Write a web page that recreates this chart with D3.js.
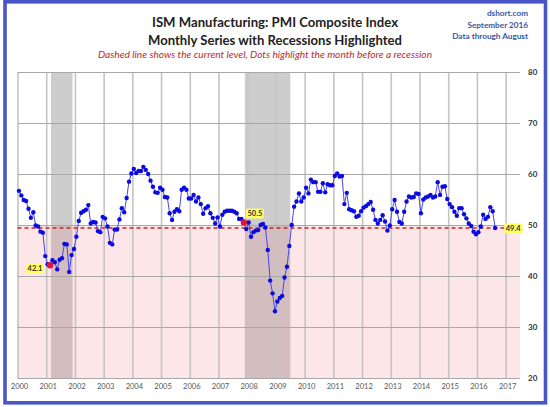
<!DOCTYPE html>
<html>
<head>
<meta charset="utf-8">
<script src="https://cdn.jsdelivr.net/npm/d3@7"></script>
<style>
  html, body { margin: 0; padding: 0; background: #fff; }
  svg { display: block; }
</style>
</head>
<body>
<svg id="chart" width="550" height="407"></svg>
<script>
// ---------------- DATA ----------------
const yearLabels = ['2000','2001','2002','2003','2004','2005','2006','2007','2008','2009','2010','2011','2012','2013','2014','2015','2016','2017'];
const yTicks = [20, 30, 40, 50, 60, 70, 80];

const pmi2000 = [56.7, 55.8, 54.9, 54.7, 53.2, 51.4, 52.5, 49.9, 49.7, 48.7, 48.5, 43.9];
const pmi2001 = [42.3, 42.1, 43.1, 42.7, 41.3, 43.2, 43.5, 46.3, 46.2, 40.8, 44.1, 45.3];
const pmi2002 = [47.7, 50.8, 52.4, 52.7, 53.0, 53.9, 50.3, 50.6, 50.5, 48.8, 48.6, 51.6];
const pmi2003 = [51.3, 49.7, 46.5, 46.2, 49.1, 49.1, 51.1, 53.3, 52.5, 55.3, 58.5, 60.1];
const pmi2004 = [61.0, 60.2, 60.6, 60.6, 61.4, 60.8, 60.0, 58.7, 57.5, 56.4, 56.3, 57.3];
const pmi2005 = [56.9, 55.5, 55.4, 52.3, 51.0, 52.6, 53.1, 52.7, 56.9, 57.3, 56.9, 55.2];
const pmi2006 = [55.2, 55.9, 54.6, 55.4, 54.1, 52.2, 53.3, 53.7, 52.3, 51.4, 50.3, 51.5];
const pmi2007 = [49.7, 52.0, 52.6, 52.8, 52.8, 52.8, 52.6, 52.3, 51.2, 51.2, 50.5, 49.2];
const pmi2008 = [50.5, 47.7, 48.6, 48.9, 49.0, 50.0, 50.2, 49.5, 45.1, 39.1, 36.6, 33.1];
const pmi2009 = [35.0, 35.7, 36.1, 39.7, 41.8, 45.9, 50.0, 53.6, 54.6, 56.2, 54.6, 55.4];
const pmi2010 = [57.3, 56.2, 58.9, 58.4, 58.4, 56.5, 56.5, 58.2, 56.4, 58.0, 57.8, 57.8];
const pmi2011 = [59.6, 60.1, 59.5, 59.6, 54.1, 56.3, 53.1, 52.9, 52.7, 51.6, 51.8, 52.7];
const pmi2012 = [53.4, 53.7, 54.1, 54.5, 53.0, 51.0, 50.3, 51.0, 51.9, 50.7, 48.9, 49.9];
const pmi2013 = [53.1, 54.9, 52.6, 50.6, 50.3, 52.6, 54.6, 55.6, 55.4, 55.5, 56.2, 56.1];
const pmi2014 = [52.3, 55.0, 55.4, 55.6, 55.9, 55.4, 55.6, 58.4, 55.9, 57.5, 57.6, 55.1];
const pmi2015 = [54.1, 53.5, 52.6, 51.8, 53.3, 53.3, 52.1, 51.3, 50.3, 49.8, 48.7, 48.2];
const pmi2016 = [48.6, 49.7, 52.0, 51.2, 51.6, 53.5, 52.7, 49.4];

const pmiByYear = [pmi2000, pmi2001, pmi2002, pmi2003, pmi2004, pmi2005, pmi2006, pmi2007,
                   pmi2008, pmi2009, pmi2010, pmi2011, pmi2012, pmi2013, pmi2014, pmi2015, pmi2016];

// recessions: [start year, start month(1-12), end year, end month]
const recessions = [[2001, 3, 2001, 11], [2007, 12, 2009, 6]];
// month before each recession
const preRecession = [[2001, 2], [2007, 11]];

const titleLines = ['ISM Manufacturing: PMI Composite Index', 'Monthly Series with Recessions Highlighted'];
const subtitle = 'Dashed line shows the current level, Dots highlight the month before a recession';
const sourceLines = ['dshort.com', 'September 2016', 'Data through August'];

// ---------------- BUILD ----------------
const series = [];
pmiByYear.forEach((arr, yi) => arr.forEach((v, mi) => series.push({ year: 2000 + yi, month: mi + 1, value: v })));
const current = series[series.length - 1];

const svg = d3.select('#chart');
const W = 550, H = 407;
const plot = { left: 17.5, right: 520, top: 72, bottom: 378 };

const x = d3.scaleLinear().domain([2000, 2017.5]).range([plot.left, plot.right]);
const y = d3.scaleLinear().domain([20, 80]).range([plot.bottom, plot.top]);
const xm = (yr, m) => x(yr + (m - 0.4) / 12);

svg.append('rect').attr('width', W).attr('height', H).attr('fill', '#fff');

// recession bands
svg.append('g').selectAll('rect').data(recessions).join('rect')
  .attr('x', d => x(d[0] + (d[1] - 1) / 12))
  .attr('width', d => x(d[2] + d[3] / 12) - x(d[0] + (d[1] - 1) / 12))
  .attr('y', y(80)).attr('height', y(20) - y(80))
  .attr('fill', '#cdcdcd');

// pink zone below 50
svg.append('rect')
  .attr('x', plot.left).attr('width', plot.right - plot.left)
  .attr('y', y(50)).attr('height', y(20) - y(50))
  .attr('fill', 'rgb(240,120,130)').attr('fill-opacity', 0.19);

// vertical gridlines (x axis)
const xAxis = d3.axisBottom(x)
  .tickValues(yearLabels.map(Number))
  .tickFormat((d, i) => yearLabels[i])
  .tickSize(-(plot.bottom - plot.top))
  .tickPadding(6);
const gx = svg.append('g').attr('transform', `translate(0,${plot.bottom})`).call(xAxis);
gx.select('.domain').remove();
gx.selectAll('.tick line').attr('stroke', '#c4c4c4').attr('stroke-width', 1.6);
gx.selectAll('.tick text')
  .attr('font-family', 'Lato, "DejaVu Sans", sans-serif')
  .attr('font-size', 7.5).attr('fill', '#555').attr('dx', 1.5);

// horizontal gridlines + right labels
const yAxis = d3.axisRight(y)
  .tickValues(yTicks)
  .tickSize(-(plot.right - plot.left))
  .tickPadding(8);
const gy = svg.append('g').attr('transform', `translate(${plot.right},0)`).call(yAxis);
gy.select('.domain').remove();
gy.selectAll('.tick line').attr('stroke', '#a8a8a8').attr('stroke-width', 1);
gy.selectAll('.tick text')
  .attr('font-family', 'Lato, "DejaVu Sans", sans-serif')
  .attr('font-weight', 'bold')
  .attr('font-size', 8).attr('fill', '#333');

// dashed current level
svg.append('line')
  .attr('x1', plot.left).attr('x2', plot.right)
  .attr('y1', y(current.value)).attr('y2', y(current.value))
  .attr('stroke', '#c0282a').attr('stroke-width', 1.5)
  .attr('stroke-dasharray', '4,3');

// data line
const line = d3.line().x(d => xm(d.year, d.month)).y(d => y(d.value));
svg.append('path').datum(series)
  .attr('d', line).attr('fill', 'none')
  .attr('stroke', '#4646f0').attr('stroke-width', 1);

svg.append('g').selectAll('circle').data(series).join('circle')
  .attr('cx', d => xm(d.year, d.month)).attr('cy', d => y(d.value))
  .attr('r', 2.2).attr('fill', '#0b0be0');

// pre-recession red dots
const preData = preRecession.map(([yr, m]) => series.find(d => d.year === yr && d.month === m));
svg.append('g').selectAll('circle').data(preData).join('circle')
  .attr('cx', d => xm(d.year, d.month)).attr('cy', d => y(d.value))
  .attr('r', 3.2).attr('fill', '#e0143c');

// value labels
function valueLabel(d, dx, dy) {
  const g = svg.append('g').attr('transform', `translate(${xm(d.year, d.month) + dx},${y(d.value) + dy})`);
  const t = g.append('text').text(d.value.toFixed(1))
    .attr('text-anchor', 'middle').attr('dy', '0.35em')
    .attr('font-family', 'Lato, "DejaVu Sans", sans-serif')
    .attr('font-weight', 'bold').attr('font-size', 7.5).attr('fill', '#333');
  const bb = t.node().getBBox();
  g.insert('rect', 'text')
    .attr('x', bb.x - 1.5).attr('y', bb.y - 0.5)
    .attr('width', bb.width + 3).attr('height', bb.height + 1)
    .attr('rx', 1.5).attr('fill', '#ffff66');
}
valueLabel(preData[0], -15, 3.5);
valueLabel(preData[1], 11, -9);
valueLabel(current, 18, 0);

// titles
svg.append('text').text(titleLines[0])
  .attr('x', 275).attr('y', 27).attr('text-anchor', 'middle')
  .attr('font-family', 'Lato, "Open Sans", sans-serif').attr('font-weight', 'bold')
  .attr('font-size', 13).attr('fill', '#222')
  .attr('textLength', 246).attr('lengthAdjust', 'spacingAndGlyphs');
svg.append('text').text(titleLines[1])
  .attr('x', 275).attr('y', 45).attr('text-anchor', 'middle')
  .attr('font-family', 'Lato, "Open Sans", sans-serif').attr('font-weight', 'bold')
  .attr('font-size', 13).attr('fill', '#222')
  .attr('textLength', 254).attr('lengthAdjust', 'spacingAndGlyphs');
svg.append('text').text(subtitle)
  .attr('x', 265).attr('y', 57.5).attr('text-anchor', 'middle')
  .attr('font-family', 'Lato, "Open Sans", sans-serif').attr('font-style', 'italic')
  .attr('font-size', 10).attr('fill', '#c0282a')
  .attr('textLength', 334).attr('lengthAdjust', 'spacingAndGlyphs');

svg.append('g').selectAll('text').data(sourceLines).join('text')
  .text(d => d)
  .attr('x', 528).attr('y', (d, i) => 16 + i * 11.5)
  .attr('text-anchor', 'end')
  .attr('font-family', 'Lato, "Open Sans", sans-serif').attr('font-weight', 'bold')
  .attr('font-size', 8.2).attr('fill', '#3558a3');

// frame
svg.append('rect')
  .attr('x', 5).attr('y', 1.8).attr('width', 540.5).attr('height', 401)
  .attr('fill', 'none').attr('stroke', '#4a55c6').attr('stroke-width', 3.6);
</script>
</body>
</html>
